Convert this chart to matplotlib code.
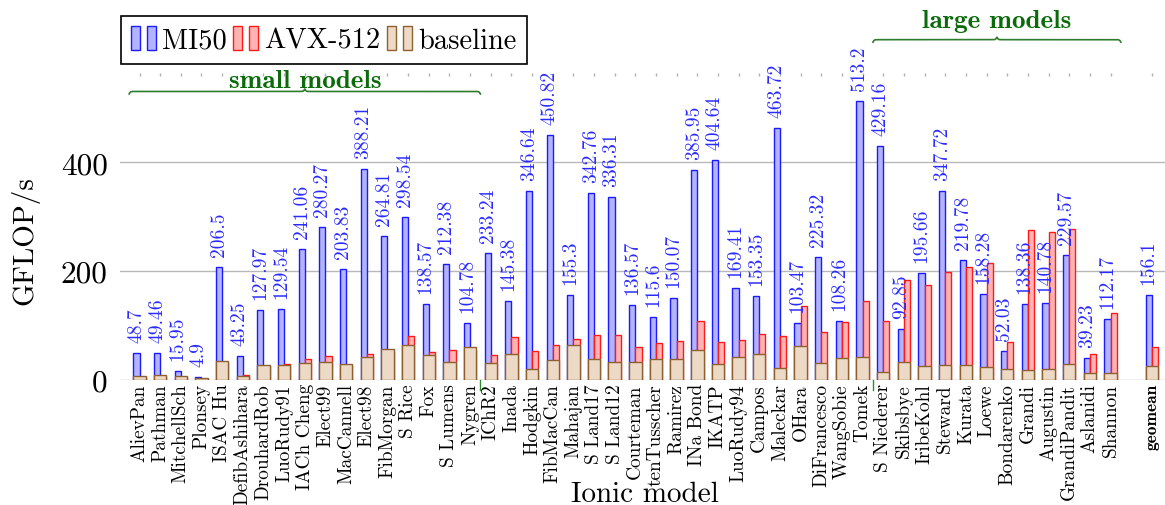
##########################################################################
#     GFLOP/s per ionic model: MI50 vs AVX-512 vs baseline              #
##########################################################################

import numpy as np
import matplotlib
matplotlib.use("Agg")
import matplotlib.pyplot as plt
from matplotlib.patches import Rectangle
from matplotlib.legend_handler import HandlerTuple


models = ["AlievPan", "Pathman", "MitchellSch", "Plonsey", "ISAC Hu", "DefibAshihara",
	"DrouhardRob", "LuoRudy91", "IACh Cheng", "Elect99", "MacCannell", "Elect98",
	"FibMorgan", "S Rice", "Fox", "S Lumens", "Nygren", "IChR2", "Inada", "Hodgkin",
	"FibMacCan", "Mahajan", "S Land17", "S Land12", "Courteman", "tenTusscher",
	"Ramirez", "INa Bond", "IKATP", "LuoRudy94", "Campos", "Maleckar", "OHara",
	"DiFrancesco", "WangSobie", "Tomek", "S Niederer", "Skibsbye", "IribeKohl",
	"Steward", "Kurata", "Loewe", "Bondarenko", "Grandi", "Augustin", "GrandiPandit",
	"Aslanidi", "Shannon"]

mi50 = [48.7, 49.46, 15.95, 4.9, 206.5, 43.25, 127.97, 129.54, 241.06, 280.27,
	203.83, 388.21, 264.81, 298.54, 138.57, 212.38, 104.78, 233.24, 145.38, 346.64,
	450.82, 155.3, 342.76, 336.31, 136.57, 115.6, 150.07, 385.95, 404.64, 169.41,
	153.35, 463.72, 103.47, 225.32, 108.26, 513.2, 429.16, 92.85, 195.66, 347.72,
	219.78, 158.28, 52.03, 138.36, 140.78, 229.57, 39.23, 112.17]

avx512 = [5, 7, 5, 1.5, 30, 8.6, 25, 28.8, 39, 43,
	27, 46.6, 52, 81, 51.5, 54, 55, 46, 79, 52,
	63, 75.5, 82.8, 82.2, 60.7, 67.5, 71.2, 107.4, 68.7, 73.6,
	84.7, 79.8, 136, 88.3, 105.5, 144, 108, 182.8, 174.8, 198,
	206.7, 214, 68.7, 274.8, 271, 276.7, 46.6, 122]

baseline = [7.4, 8.6, 6.7, 2.5, 34.4, 6.7, 27, 27.6, 30, 32,
	29.4, 41.7, 55.8, 63.8, 45.4, 32, 60, 30.7, 47.9, 19.6,
	36.2, 63.8, 38, 32.5, 32, 38, 38, 54.6, 28.8, 41.7,
	46.6, 20.9, 62, 30.7, 39.3, 41, 13.5, 32, 25, 27,
	27, 24, 19, 18.4, 19, 28.2, 12.3, 12.9]

# geomean column (sits after an empty slot)
geo_label = "geomean"
geo_mi50 = 156.1
geo_avx512 = 59.5
geo_baseline = 25.8

# model groups marked with braces (first, last model)
small_group = ("AlievPan", "Nygren")
large_group = ("S Niederer", "Shannon")


plt.rcParams['font.family'] = ['cmr10', 'DejaVu Serif']
plt.rcParams['axes.formatter.use_mathtext'] = True

W, H = 1165, 506
fig = plt.figure(figsize=(W / 100, H / 100), dpi=100)

# axes box in pixels
ax_l, ax_r, ax_b, ax_t = 120, 1165, 380.7, 73.5
ax = fig.add_axes([ax_l / W, 1 - ax_b / H, (ax_r - ax_l) / W, (ax_b - ax_t) / H])

x = np.arange(len(models))
geo_x = len(models) + 1
xs = np.append(x, geo_x)
v_mi50 = np.append(mi50, geo_mi50)
v_avx = np.append(avx512, geo_avx512)
v_base = np.append(baseline, geo_baseline)

bw = 0.3
blue_fc, blue_ec = "#b3b3ff", "#1a1aff"
red_fc, red_ec = "#ffb3b3", "#ff1a1a"
brown_fc, brown_ec = "#ecd9c6", "#8f5f30"

ax.bar(xs - bw / 2, v_mi50, bw, color=blue_fc, edgecolor=blue_ec, linewidth=1.0, zorder=2)
ax.bar(xs + bw / 2, v_avx, bw, color=red_fc, edgecolor=red_ec, linewidth=1.0, zorder=2)
ax.bar(xs, v_base, 2 * bw, color=brown_fc, edgecolor=brown_ec, linewidth=1.0, zorder=3)

# value labels above MI50 bars
for xi, v in zip(xs, v_mi50):
	ax.annotate(f"{v:g}", (xi - bw / 2, v), xytext=(0, 8), textcoords="offset points",
		rotation=90, ha="center", va="bottom", color="#2a2aff", fontsize=14, zorder=5)

xmin = (ax_l - 139.5) / 20.66
xmax = (ax_r - 139.5) / 20.66
ax.set_xlim(xmin, xmax)
ax.set_ylim(0, 565.2)

# axes styling
for s in ["left", "right", "top", "bottom"]:
	ax.spines[s].set_visible(False)
ax.set_yticks([0, 200, 400])
ax.set_yticklabels(["0", "200", "400"], fontsize=22.5)
ax.tick_params(axis="y", length=0, pad=9)
ax.yaxis.grid(True, color="#b8b8b8", linewidth=1.0, zorder=0)
ax.set_axisbelow(True)

ax.set_xticks(xs)
ax.set_xticklabels(models + [geo_label], rotation=90, fontsize=13.9)
ax.tick_params(axis="x", bottom=False, top=True, direction="in", length=2,
	width=1, color="#b0b0b0", pad=2.5)
lbl = ax.get_xticklabels()[-1]
lbl.set_fontfamily("cmb10")
lbl.set_fontsize(12.5)

fig.text(25 / W, 1 - 241 / H, "GFLOP/s", rotation=90, ha="center", va="center", fontsize=21)
fig.text(645 / W, 1 - 502 / H, "Ionic model", ha="center", va="baseline", fontsize=21)

# braces
sx = (ax_r - ax_l) / (xmax - xmin)
sy = (ax_b - ax_t) / 565.2
green = "#0b6b0b"


def brace(x0, x1, y, hpx=5.0, beta=1.5):
	wpx = (x1 - x0) * sx
	t = np.linspace(0, wpx / 2, 300)
	yh = 1 / (1 + np.exp(-beta * (t - t[0]))) + 1 / (1 + np.exp(-beta * (t - t[-1])))
	yy = np.concatenate([yh, yh[::-1]]) - 0.5
	tt = np.concatenate([t, t + wpx / 2])
	ax.plot(x0 + tt / sx, y + yy * hpx / sy, color="#2e7d2e", linewidth=1.2, clip_on=False, zorder=6)


i0, i1 = models.index(small_group[0]), models.index(small_group[1])
brace(i0 - 0.5, i1 + 0.5, 525.7)
ax.text((i0 + i1) / 2, 539, "small models", family="cmb10", fontsize=19.5,
	color=green, ha="center", va="baseline", zorder=6)

j0, j1 = models.index(large_group[0]), models.index(large_group[1])
brace(j0 - 0.5, j1 + 0.5, 621)
ax.text((j0 + j1) / 2, 649.5, "large models", family="cmb10", fontsize=19.5,
	color=green, ha="center", va="baseline", clip_on=False, zorder=6)

# short green separators under the axis
for xb in [i1 + 0.5, j0 - 0.5]:
	ax.plot([xb, xb], [0, -10 / sy], color="#2e8b2e", linewidth=1.0, clip_on=False)

# legend
h_blue = (Rectangle((0, 0), 1, 1, fc=blue_fc, ec=blue_ec, lw=1.0),
	Rectangle((0, 0), 1, 1, fc=blue_fc, ec=blue_ec, lw=1.0))
h_red = (Rectangle((0, 0), 1, 1, fc=red_fc, ec=red_ec, lw=1.0),
	Rectangle((0, 0), 1, 1, fc=red_fc, ec=red_ec, lw=1.0))
h_brown = (Rectangle((0, 0), 1, 1, fc=brown_fc, ec=brown_ec, lw=1.0),
	Rectangle((0, 0), 1, 1, fc=brown_fc, ec=brown_ec, lw=1.0))
leg = fig.legend([h_blue, h_red, h_brown], ["MI50", "AVX-512", "baseline"],
	handler_map={tuple: HandlerTuple(ndivide=None, pad=0.25)},
	loc="upper left", bbox_to_anchor=(121 / W, 1 - 17 / H), bbox_transform=fig.transFigure,
	ncol=3, fontsize=20.5, handlelength=0.88, handleheight=0.91, handletextpad=0.21,
	columnspacing=0.23, borderpad=0.35, borderaxespad=0, fancybox=False,
	framealpha=1, edgecolor="black")
leg.get_frame().set_linewidth(1.2)

plt.savefig("out.png", dpi=100)
